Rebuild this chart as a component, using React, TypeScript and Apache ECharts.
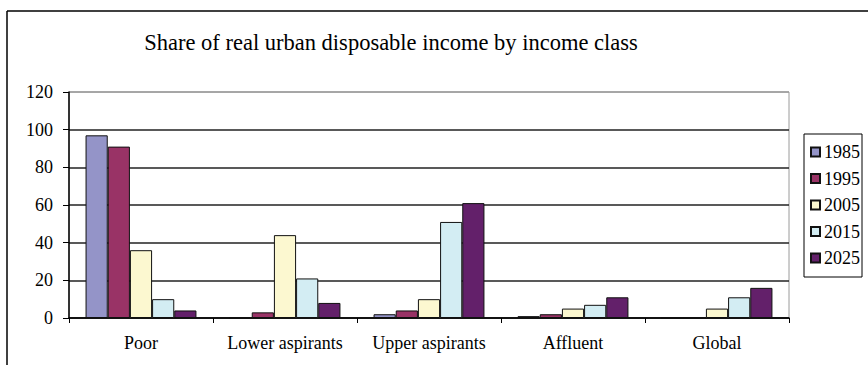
import React, { useEffect, useRef } from "react";
import * as echarts from "echarts";

const categories = ["Poor", "Lower aspirants", "Upper aspirants", "Affluent", "Global"];
const years = ["1985", "1995", "2005", "2015", "2025"];
const v1985 = [97, 0, 2, 1, 0];
const v1995 = [91, 3, 4, 2, 0];
const v2005 = [36, 44, 10, 5, 5];
const v2015 = [10, 21, 51, 7, 11];
const v2025 = [4, 8, 61, 11, 16];
const yTicks = [0, 20, 40, 60, 80, 100, 120];
const colors = ["#9494C8", "#993366", "#FCF8D0", "#D3EDF3", "#63206A"];

const FONT = "'Liberation Serif', 'Times New Roman', serif";

export default function App() {
  const ref = useRef<HTMLDivElement>(null);
  useEffect(() => {
    if (!ref.current) return;
    const chart = echarts.init(ref.current, null, { renderer: "svg" });
    const seriesData = [v1985, v1995, v2005, v2015, v2025];
    chart.setOption({
      animation: false,
      backgroundColor: "#ffffff",
      title: {
        text: "Share of real urban disposable income by income class",
        left: 386,
        textAlign: "center",
        top: 26,
        textStyle: { fontFamily: FONT, fontSize: 22.5, fontWeight: "normal", color: "#000" },
      },
      grid: {
        left: 69,
        right: 79,
        top: 92,
        bottom: 47,
        show: true,
        borderColor: "#9a9a9a",
        borderWidth: 1,
        backgroundColor: "transparent",
      },
      legend: {
        orient: "vertical",
        left: 804,
        top: 134,
        data: years,
        itemWidth: 9,
        itemHeight: 9,
        itemGap: 8.5,
        padding: [9, 2, 10, 6],
        borderColor: "#000",
        borderWidth: 1,
        icon: "rect",
        textStyle: { fontFamily: FONT, fontSize: 18, color: "#000", padding: [0, 0, 0, -1] },
      },
      xAxis: {
        type: "category",
        data: categories,
        axisLine: { lineStyle: { color: "#000", width: 1.5 } },
        axisTick: { show: true, interval: 0, length: 5, lineStyle: { color: "#000" } },
        axisLabel: { fontFamily: FONT, fontSize: 18, color: "#000", margin: 16, interval: 0 },
      },
      yAxis: {
        type: "value",
        min: yTicks[0],
        max: yTicks[yTicks.length - 1],
        interval: 20,
        axisLine: { show: true, lineStyle: { color: "#000", width: 1.5 } },
        axisTick: { show: true, length: 6, lineStyle: { color: "#000" } },
        axisLabel: { fontFamily: FONT, fontSize: 18, color: "#000", margin: 16 },
        splitLine: {
          lineStyle: {
            color: ["#222", "#222", "#222", "#222", "#222", "#222", "#9a9a9a"],
            width: 1.5,
          },
        },
      },
      series: years.map((y, i) => ({
        name: y,
        type: "bar",
        data: seriesData[i],
        barGap: "0%",
        barCategoryGap: "23%",
        itemStyle: { color: colors[i], borderColor: "#111", borderWidth: 1 },
      })),
      graphic: [
        { type: "line", shape: { x1: 7, y1: 11, x2: 868, y2: 11 }, style: { stroke: "#000", lineWidth: 1.5 } },
        { type: "line", shape: { x1: 7, y1: 11, x2: 7, y2: 365 }, style: { stroke: "#000", lineWidth: 1.5 } },
      ],
    });
    return () => chart.dispose();
  }, []);
  return (
    <div
      ref={ref}
      style={{ position: "fixed", left: 0, top: 0, width: 868, height: 365 }}
    />
  );
}
